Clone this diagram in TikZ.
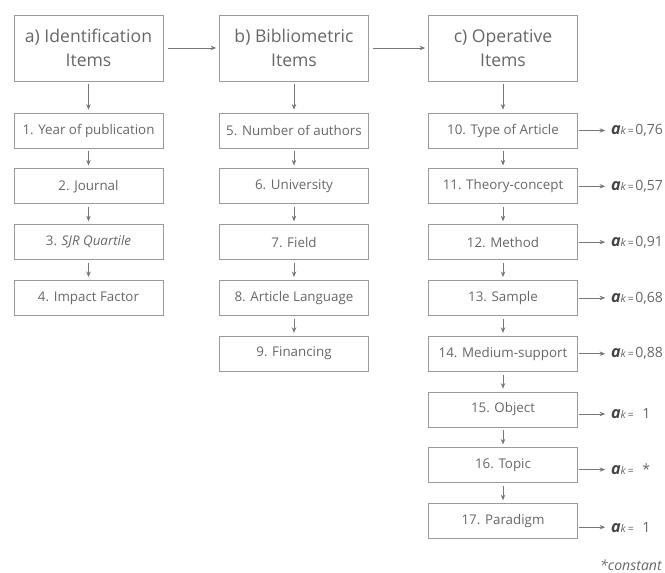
\documentclass[tikz,border=0pt]{standalone}
\usepackage{fontspec}
\setmainfont{Open Sans}
\usetikzlibrary{arrows.meta}
\definecolor{txtgray}{HTML}{666666}
\definecolor{boxgray}{HTML}{9A9A9A}
\definecolor{arrgray}{HTML}{777777}
\definecolor{akgray}{HTML}{444444}
\newcommand{\ak}[1]{{\color{akgray}\fontsize{11.5}{12}\selectfont\bfseries\itshape a}{\fontsize{7.5}{8}\selectfont\itshape k\,=\,}#1}
\begin{document}
\begin{tikzpicture}[>={Stealth[length=4pt,width=3.2pt]},
  head/.style={draw=boxgray, line width=0.7pt, align=center, text=txtgray, minimum width=3.725cm, minimum height=1.65cm, font=\fontsize{12.5}{17.5}\selectfont},
  item/.style={draw=boxgray, line width=0.7pt, align=center, text=txtgray, minimum width=3.725cm, minimum height=0.875cm, font=\fontsize{9.5}{11}\selectfont},
  coef/.style={anchor=west, inner sep=2pt, text=txtgray, font=\fontsize{10}{12}\selectfont},
  link/.style={->, draw=arrgray, line width=0.55pt, shorten <=2pt, shorten >=2pt}]
\useasboundingbox (0,0) rectangle (16.625,-14.325);

\node[head] (ha) at (2.2125,-1.2) {a) Identification\\Items};
\node[head] (hb) at (7.35,-1.2) {b) Bibliometric\\Items};
\node[head] (hc) at (12.575,-1.2) {c) Operative\\Items};

% identification
\node[item] (a1) at (2.2125,-3.2625) {1. Year of publication};
\node[item] (a2) at (2.2125,-4.6575) {2. Journal};
\node[item] (a3) at (2.2125,-6.0525) {3. \textit{SJR Quartile}};
\node[item] (a4) at (2.2125,-7.4475) {4. Impact Factor};

% bibliometric
\node[item] (b5) at (7.35,-3.2625) {5. Number of authors};
\node[item] (b6) at (7.35,-4.6575) {6. University};
\node[item] (b7) at (7.35,-6.0525) {7. Field};
\node[item] (b8) at (7.35,-7.4475) {8. Article Language};
\node[item] (b9) at (7.35,-8.8425) {9. Financing};

% operative
\node[item] (c10) at (12.575,-3.2625) {10. Type of Article};
\node[item] (c11) at (12.575,-4.6575) {11. Theory-concept};
\node[item] (c12) at (12.575,-6.0525) {12. Method};
\node[item] (c13) at (12.575,-7.4475) {13. Sample};
\node[item] (c14) at (12.575,-8.8425) {14. Medium-support};
\node[item] (c15) at (12.575,-10.2375) {15. Object};
\node[item] (c16) at (12.575,-11.6325) {16. Topic};
\node[item] (c17) at (12.575,-13.0275) {17. Paradigm};

\node[coef] (k10) at (15.2,-3.2625) {\ak{0,76}};
\node[coef] (k11) at (15.2,-4.6575) {\ak{0,57}};
\node[coef] (k12) at (15.2,-6.0525) {\ak{0,91}};
\node[coef] (k13) at (15.2,-7.4475) {\ak{0,68}};
\node[coef] (k14) at (15.2,-8.8425) {\ak{0,88}};
\node[coef] (k15) at (15.2,-10.35) {\ak{\enspace 1}};
\node[coef] (k16) at (15.2,-11.74) {\ak{\enspace *}};
\node[coef] (k17) at (15.2,-13.18) {\ak{\enspace 1}};

\node[anchor=base east, inner sep=0pt, text=txtgray, font=\fontsize{10}{12}\selectfont\itshape] (note) at (16.55,-14.27) {*constant};

\draw[link, shorten <=3pt] (ha) -- (hb);
\draw[link, shorten <=3pt] (hb) -- (hc);

\draw[link] (ha) -- (a1);
\draw[link] (a1) -- (a2);
\draw[link] (a2) -- (a3);
\draw[link] (a3) -- (a4);

\draw[link] (hb) -- (b5);
\draw[link] (b5) -- (b6);
\draw[link] (b6) -- (b7);
\draw[link] (b7) -- (b8);
\draw[link] (b8) -- (b9);

\draw[link] (hc) -- (c10);
\draw[link] (c10) -- (c11);
\draw[link] (c11) -- (c12);
\draw[link] (c12) -- (c13);
\draw[link] (c13) -- (c14);
\draw[link] (c14) -- (c15);
\draw[link] (c15) -- (c16);
\draw[link] (c16) -- (c17);

\draw[link, shorten <=1pt, shorten >=2pt] (c10) -- (k10);
\draw[link, shorten <=1pt, shorten >=2pt] (c11) -- (k11);
\draw[link, shorten <=1pt, shorten >=2pt] (c12) -- (k12);
\draw[link, shorten <=1pt, shorten >=2pt] (c13) -- (k13);
\draw[link, shorten <=1pt, shorten >=2pt] (c14) -- (k14);
\draw[link, shorten <=1pt, shorten >=2pt] (c15.east |- k15) -- (k15);
\draw[link, shorten <=1pt, shorten >=2pt] (c16.east |- k16) -- (k16);
\draw[link, shorten <=1pt, shorten >=2pt] (c17.east |- k17) -- (k17);
\end{tikzpicture}
\end{document}
